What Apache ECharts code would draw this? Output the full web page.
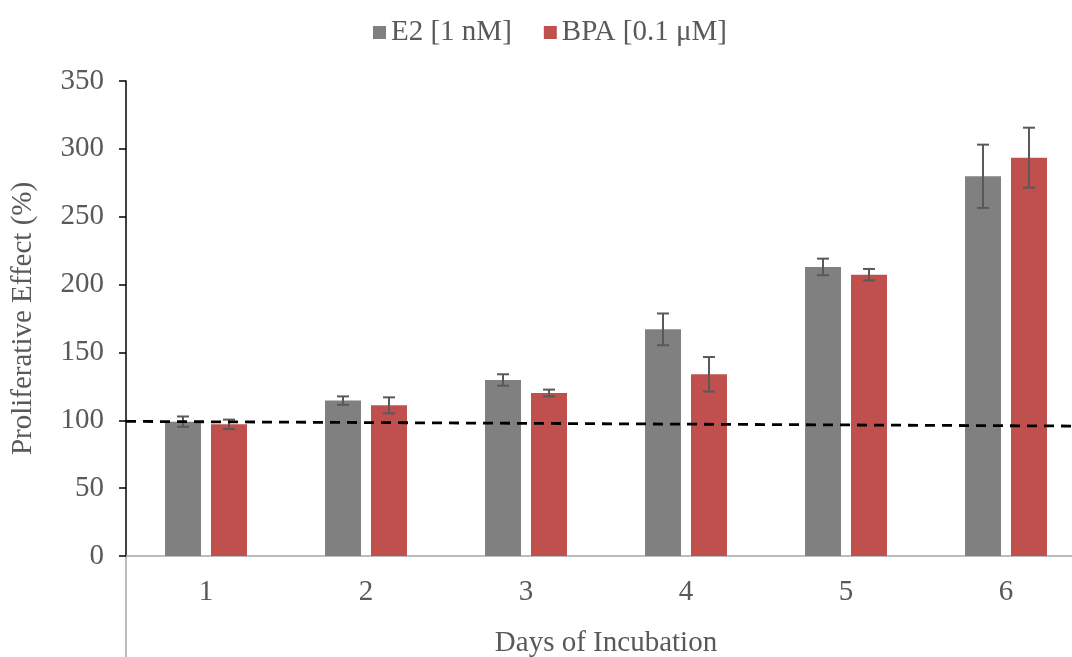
<!DOCTYPE html>
<html>
<head>
<meta charset="utf-8">
<script src="https://cdn.jsdelivr.net/npm/echarts@6/dist/echarts.min.js"></script>
<style>html,body{margin:0;padding:0;background:#fff}#c{width:1072px;height:657px}</style>
</head>
<body>
<div id="c"></div>
<script>
// ---- data ----
var days = ['1', '2', '3', '4', '5', '6'];
var e2Values = [99.0, 114.5, 129.7, 167.0, 213.0, 279.8];
var e2Errors = [3.8, 3.1, 4.2, 11.7, 6.1, 23.3];
var bpaValues = [97.0, 111.0, 120.1, 133.9, 207.3, 293.5];
var bpaErrors = [3.5, 5.9, 2.5, 12.7, 4.2, 22.1];
var baselineX = [0.5, 6.5];
var baselineY = [99.2, 95.7];
var yTicks = [0, 50, 100, 150, 200, 250, 300, 350];
var seriesNames = ['E2 [1 nM]', 'BPA [0.1 \u03bcM]'];

// ---- style ----
var FONT = 'Liberation Serif';
var FS = 29;
var TXT = '#595959';
var BAR_W = 36, BAR_GAP_PX = 10;
var colors = ['#808080', '#C0504D'];

function errData(vals, errs) {
  return vals.map(function (v, i) { return [i, v - errs[i], v + errs[i]]; });
}
function errSeries(vals, errs, seriesIdx) {
  var offset = (seriesIdx === 0 ? -1 : 1) * (BAR_W + BAR_GAP_PX) / 2;
  return {
    type: 'custom', xAxisIndex: 0, yAxisIndex: 0, z: 5,
    data: errData(vals, errs),
    renderItem: function (params, api) {
      var lo = api.coord([api.value(0), api.value(1)]);
      var hi = api.coord([api.value(0), api.value(2)]);
      var x = lo[0] + offset, hw = 6;
      var st = { stroke: '#595959', lineWidth: 2 };
      return { type: 'group', children: [
        { type: 'line', shape: { x1: x, y1: lo[1], x2: x, y2: hi[1] }, style: st },
        { type: 'line', shape: { x1: x - hw, y1: lo[1], x2: x + hw, y2: lo[1] }, style: st },
        { type: 'line', shape: { x1: x - hw, y1: hi[1], x2: x + hw, y2: hi[1] }, style: st }
      ]};
    },
    silent: true, tooltip: { show: false }
  };
}

var chart = echarts.init(document.getElementById('c'), null, { renderer: 'canvas' });
chart.setOption({
  animation: false,
  textStyle: { fontFamily: FONT, color: TXT },
  legend: {
    top: 13, left: 368, itemWidth: 13, itemHeight: 13, itemGap: 32,
    icon: 'rect',
    textStyle: { fontFamily: FONT, fontSize: FS, color: TXT },
    data: seriesNames
  },
  grid: { left: 126, width: 960, top: 81, height: 475, containLabel: false, outerBoundsMode: 'none' },
  xAxis: [{
    type: 'category', data: days,
    axisLine: { lineStyle: { color: '#A6A6A6', width: 1.5 } },
    axisTick: { show: false },
    axisLabel: { fontFamily: FONT, fontSize: FS, color: TXT, margin: 22 },
    name: 'Days of Incubation', nameLocation: 'middle', nameGap: 73,
    nameTextStyle: { fontFamily: FONT, fontSize: FS, color: TXT }
  }, {
    type: 'value', show: false, min: baselineX[0], max: baselineX[1]
  }],
  yAxis: {
    type: 'value', min: yTicks[0], max: yTicks[yTicks.length - 1], interval: yTicks[1] - yTicks[0],
    axisLine: { show: true, lineStyle: { color: '#000', width: 1.5 } },
    axisTick: { show: true, length: 7, lineStyle: { color: '#000', width: 1.5 } },
    splitLine: { show: false },
    axisLabel: { fontFamily: FONT, fontSize: FS, color: TXT, margin: 22 },
    name: 'Proliferative Effect (%)', nameLocation: 'middle', nameGap: 88,
    nameTextStyle: { fontFamily: FONT, fontSize: FS, color: TXT }
  },
  series: [
    { name: seriesNames[0], type: 'bar', data: e2Values, barWidth: BAR_W,
      barGap: (BAR_GAP_PX / BAR_W * 100) + '%', itemStyle: { color: colors[0] } },
    { name: seriesNames[1], type: 'bar', data: bpaValues, barWidth: BAR_W,
      barGap: (BAR_GAP_PX / BAR_W * 100) + '%', itemStyle: { color: colors[1] } },
    errSeries(e2Values, e2Errors, 0),
    errSeries(bpaValues, bpaErrors, 1),
    { type: 'line', xAxisIndex: 1, yAxisIndex: 0, z: 6, symbol: 'none', silent: true,
      data: [[baselineX[0], baselineY[0]], [baselineX[1], baselineY[1]]],
      lineStyle: { color: '#000', width: 2.8, type: [10, 7] } }
  ],
  graphic: [{
    type: 'line', shape: { x1: 126, y1: 556, x2: 126, y2: 657 },
    style: { stroke: '#A6A6A6', lineWidth: 1.5 }
  }]
});
</script>
</body>
</html>
